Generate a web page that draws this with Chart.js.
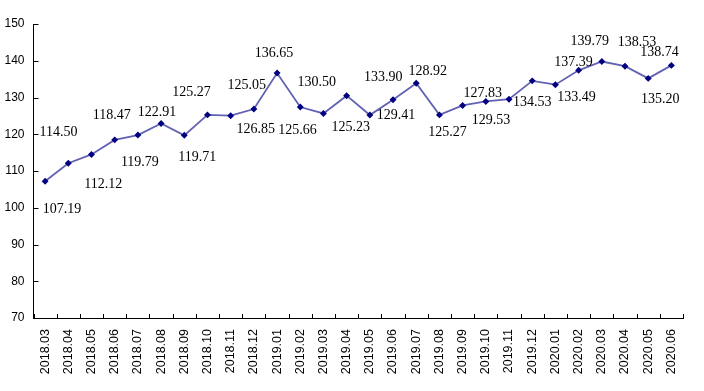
<!DOCTYPE html>
<html><head><meta charset="utf-8">
<script src="https://cdn.jsdelivr.net/npm/chart.js@4/dist/chart.umd.min.js"></script>
<style>html,body{margin:0;padding:0;background:#fff}#wrap{width:704px;height:391px}</style>
</head><body><div id="wrap"><canvas id="c"></canvas></div>
<script>
const categories = ["2018.03","2018.04","2018.05","2018.06","2018.07","2018.08","2018.09","2018.10","2018.11","2018.12",
 "2019.01","2019.02","2019.03","2019.04","2019.05","2019.06","2019.07","2019.08","2019.09","2019.10","2019.11","2019.12",
 "2020.01","2020.02","2020.03","2020.04","2020.05","2020.06"];
const values = [107.19,112.12,114.50,118.47,119.79,122.91,119.71,125.27,125.05,126.85,
 136.65,127.40,125.66,130.50,125.23,129.41,133.90,125.27,127.83,128.92,129.53,134.53,
 133.49,137.39,139.79,138.53,135.20,138.74];
const valueLabels = ["107.19","112.12","114.50","118.47","119.79","122.91","119.71","125.27","125.05","126.85",
 "136.65",null,"125.66","130.50","125.23","129.41","133.90","125.27","127.83","128.92","129.53","134.53",
 "133.49","137.39","139.79","138.53","135.20","138.74"];
const yTicks = [70,80,90,100,110,120,130,140,150];

// label offsets (layout only), relative to each point
const labelOffsets = [[17,28],[35,21],[-33,-22],[-3,-25],[2,27],[-4,-11],[13,22],[-16,-23],[16,-30],[2,20],
 [-3,-20],[0,0],[-26,17],[-30,-13],[-19,12],[3,16],[-33,-6],[8,17],[20,-12],[-58,-30],[-18,21],[0,21],
 [21,13],[-5,-8],[-12,-20],[12,-24],[12,21],[-12,-13]];

const deco = {
  id:'deco',
  afterDraw(chart){
    const ctx = chart.ctx, x = chart.scales.x, y = chart.scales.y, a = chart.chartArea;
    ctx.save();
    ctx.strokeStyle = '#000'; ctx.lineWidth = 1;
    yTicks.forEach(v=>{
      const py = Math.round(y.getPixelForValue(v))+0.5;
      ctx.beginPath(); ctx.moveTo(a.left, py); ctx.lineTo(a.left+5, py); ctx.stroke();
    });
    const step = x.getPixelForValue(1)-x.getPixelForValue(0);
    for(let i=0;i<=categories.length;i++){
      const px = Math.round(x.getPixelForValue(i)-step/2)+0.5;
      ctx.beginPath(); ctx.moveTo(px, a.bottom); ctx.lineTo(px, a.bottom-4); ctx.stroke();
    }
    ctx.fillStyle = '#000';
    ctx.font = '14px "Liberation Serif"';
    ctx.textAlign = 'center'; ctx.textBaseline = 'middle';
    values.forEach((v,i)=>{
      if(valueLabels[i]==null) return;
      const px = x.getPixelForValue(i), py = y.getPixelForValue(v);
      ctx.fillText(valueLabels[i], px+labelOffsets[i][0], py+labelOffsets[i][1]);
    });
    ctx.restore();
  }
};

new Chart(document.getElementById('c'), {
  type:'line',
  data:{labels:categories, datasets:[{data:values, borderColor:'#6262b4', borderWidth:1.8,
    pointBackgroundColor:'#000080', pointBorderColor:'#000080', pointRadius:2.2, pointStyle:'rectRot', tension:0}]},
  options:{
    responsive:true, maintainAspectRatio:false, animation:false,
    layout:{padding:{top:24, right:21, left:0, bottom:0}},
    plugins:{legend:{display:false}, tooltip:{enabled:false}},
    scales:{
      x:{offset:true,
        grid:{display:false, drawTicks:false},
        border:{display:true, color:'#000', width:1},
        ticks:{minRotation:90, maxRotation:90, padding:11, color:'#000', font:{family:'"Liberation Sans"', size:12.5}, autoSkip:false},
        afterFit(s){ s.height = 73; }
      },
      y:{min:70, max:150,
        afterBuildTicks(s){ s.ticks = yTicks.map(v=>({value:v})); },
        grid:{display:false, drawTicks:false},
        border:{display:true, color:'#000', width:1},
        ticks:{padding:9, color:'#000', font:{family:'"Liberation Sans"', size:12}},
        afterFit(s){ s.width = 33.5; }
      }
    }
  },
  plugins:[deco]
});
</script></body></html>
